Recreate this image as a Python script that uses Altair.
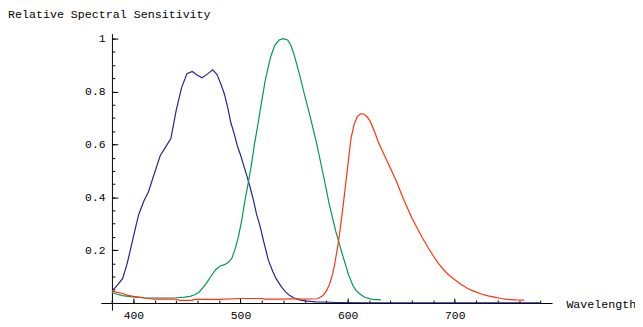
import altair as alt
import pandas as pd

# ---- data ----
blue_nm = [380, 383, 386, 390, 394, 398, 402, 405, 410, 414, 418, 422, 425, 430, 435,
           440, 445, 450, 455, 459, 464, 469, 474, 478, 482, 485, 488, 491, 494, 497,
           500, 503, 506, 509, 512, 515, 518, 522, 526, 530, 533, 538, 542, 546, 550,
           556, 562, 570, 590, 620, 700, 780]
blue_val = [0.047, 0.058, 0.072, 0.093, 0.146, 0.215, 0.285, 0.335, 0.388, 0.42, 0.47,
            0.52, 0.557, 0.59, 0.622, 0.73, 0.815, 0.868, 0.876, 0.864, 0.852, 0.866,
            0.882, 0.865, 0.825, 0.79, 0.74, 0.682, 0.642, 0.595, 0.56, 0.52, 0.48,
            0.437, 0.39, 0.335, 0.295, 0.227, 0.162, 0.12, 0.094, 0.062, 0.042, 0.028,
            0.019, 0.011, 0.007, 0.004, 0.002, 0.001, 0.001, 0.001]

green_nm = [380, 385, 390, 395, 402, 410, 420, 430, 440, 448, 453, 457, 461, 465, 469,
            473, 477, 481, 485, 489, 492, 495, 498, 501, 504, 507, 510, 513, 516, 519,
            523, 528, 532, 536, 540, 544, 547, 550, 553, 556, 559, 565, 571, 577, 583,
            589, 595, 601, 605, 608, 612, 616, 623, 631]
green_val = [0.04, 0.033, 0.028, 0.025, 0.022, 0.02, 0.019, 0.019, 0.02, 0.022, 0.025,
             0.031, 0.04, 0.058, 0.08, 0.105, 0.127, 0.14, 0.145, 0.155, 0.17, 0.205,
             0.25, 0.31, 0.385, 0.45, 0.52, 0.6, 0.67, 0.745, 0.84, 0.93, 0.975, 0.995,
             1.0, 0.995, 0.975, 0.94, 0.895, 0.85, 0.8, 0.705, 0.605, 0.49, 0.37, 0.27,
             0.185, 0.105, 0.065, 0.047, 0.032, 0.022, 0.014, 0.012]

red_nm = [380, 385, 390, 395, 400, 405, 412, 420, 440, 443, 455, 457, 480, 500, 520,
          523, 540, 545, 560, 572, 577, 580, 583, 586, 588, 591, 594, 597, 600, 603,
          606, 609, 612, 615, 618, 621, 625, 629, 633, 637, 641, 645, 649, 653, 660,
          665, 670, 675, 680, 685, 690, 695, 700, 706, 712, 718, 725, 731, 737, 743,
          749, 757, 765]
red_val = [0.045, 0.04, 0.036, 0.029, 0.025, 0.022, 0.018, 0.015, 0.015, 0.01, 0.01,
           0.014, 0.014, 0.017, 0.017, 0.015, 0.015, 0.016, 0.015, 0.016, 0.028, 0.045,
           0.07, 0.11, 0.15, 0.22, 0.31, 0.41, 0.515, 0.62, 0.675, 0.705, 0.716, 0.715,
           0.705, 0.688, 0.65, 0.605, 0.57, 0.535, 0.5, 0.465, 0.425, 0.385, 0.322,
           0.283, 0.245, 0.21, 0.178, 0.148, 0.124, 0.104, 0.088, 0.07, 0.055, 0.044,
           0.034, 0.027, 0.022, 0.017, 0.014, 0.012, 0.011]

series_names = ["blue", "green", "red"]
series_colors = ["#24248f", "#009a4e", "#ff3311"]

x_major = [400, 500, 600, 700]
x_minor = [380, 400, 420, 440, 460, 480, 500, 520, 540, 560, 580, 600, 620, 640, 660,
           680, 700, 720, 740, 760, 780]
y_major = [0.2, 0.4, 0.6, 0.8, 1.0]
y_minor = [0.05, 0.1, 0.15, 0.2, 0.25, 0.3, 0.35, 0.4, 0.45, 0.5, 0.55, 0.6, 0.65,
           0.7, 0.75, 0.8, 0.85, 0.9, 0.95, 1.0]

frames = []
for name, nm, val in [("blue", blue_nm, blue_val), ("green", green_nm, green_val),
                      ("red", red_nm, red_val)]:
    frames.append(pd.DataFrame({"nm": nm, "val": val, "series": name}))
df = pd.concat(frames, ignore_index=True)

# ---- layout ----
W, H = 457, 280
PAD_L, PAD_T = 94, 24
x_dom = [369.6, 790.8]
y_dom = [-0.027, 1.019]
x_axis_pos = (380 - x_dom[0]) / (x_dom[1] - x_dom[0]) * W      # px from left
y_axis_pos = (y_dom[1] - 0) / (y_dom[1] - y_dom[0]) * H          # px from top

FONT = "Liberation Mono"
xs = alt.Scale(domain=x_dom, nice=False, zero=False)
ys = alt.Scale(domain=y_dom, nice=False, zero=False)
cs = alt.Scale(domain=series_names, range=series_colors)

common = dict(grid=False, domainColor="black", tickColor="black", labelColor="black",
              titleColor="black", labelFont=FONT, titleFont=FONT, labelFontSize=11.5,
              titleFontSize=11.8, titleFontWeight="normal", domainWidth=1, tickWidth=1)

lines = alt.Chart(df).mark_line(strokeWidth=1.2).encode(
    x=alt.X("nm:Q", scale=xs, axis=alt.Axis(orient="top", offset=-y_axis_pos,
            values=x_major, tickSize=5, labels=False, domain=True, title="", **common)),
    y=alt.Y("val:Q", scale=ys, axis=alt.Axis(orient="right", offset=-(W - x_axis_pos),
            values=y_major, tickSize=6, labels=False, domain=True, title="", **common)),
    color=alt.Color("series:N", scale=cs, legend=None),
)

minor = alt.Chart(df).mark_line(opacity=0).encode(
    x=alt.X("nm:Q", scale=xs, axis=alt.Axis(orient="top", offset=-y_axis_pos,
            values=x_minor, tickSize=3, labels=False, domain=False, title="", **common)),
    y=alt.Y("val:Q", scale=ys, axis=alt.Axis(orient="right", offset=-(W - x_axis_pos),
            values=y_minor, tickSize=3, labels=False, domain=False, title="", **common)),
    detail="series:N",
)

labels = alt.Chart(df).mark_line(opacity=0).encode(
    x=alt.X("nm:Q", scale=xs, axis=alt.Axis(orient="bottom", offset=-(H - y_axis_pos),
            values=x_major, ticks=False, domain=False, labelPadding=7,
            title="Wavelength", titleX=573 - (8 + PAD_L), titleY=4.2,
            titleAlign="left", titleBaseline="alphabetic", titleAngle=0, **common)),
    y=alt.Y("val:Q", scale=ys, axis=alt.Axis(orient="left", offset=-x_axis_pos,
            values=y_major, ticks=False, domain=False, labelPadding=7, format="~g",
            title="", **common)),
    detail="series:N",
)

chart = alt.layer(lines, minor, labels).resolve_axis(
    x="independent", y="independent"
).properties(
    width=W, height=H,
    autosize=alt.AutoSizeParams(type="none"),
    padding={"left": PAD_L, "top": PAD_T, "right": 635 - PAD_L - W, "bottom": 10},
    background="white",
    title=alt.Title("Relative Spectral Sensitivity", anchor="start", frame="group",
                    dx=-PAD_L, offset=12, font=FONT, fontSize=11.8,
                    fontWeight="normal", color="black"),
).configure_view(strokeWidth=0)

chart.save("out.html", embed_options={"renderer": "svg", "actions": False})
